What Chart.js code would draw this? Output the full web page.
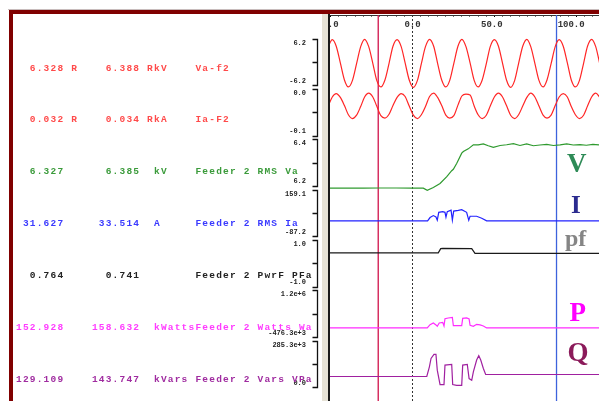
<!DOCTYPE html>
<html>
<head>
<meta charset="utf-8">
<script src="https://cdn.jsdelivr.net/npm/chart.js@4.4.0/dist/chart.umd.min.js"></script>
<style>
  html, body { margin: 0; padding: 0; background: #fff; }
  #wrap { position: relative; width: 599px; height: 401px; overflow: hidden; background: #fff; }
  canvas { position: absolute; top: 0; }
  #axisCanvas { left: 0; }
  #plotCanvas { left: 330px; }
  .frameLine { position: absolute; left: 8px; top: 9px; width: 591px; height: 1px; background: #c8bcbc; }
  .frameTop { position: absolute; left: 9px; top: 10px; width: 590px; height: 4px; background: #800000; }
  .frameLeft { position: absolute; left: 9px; top: 10px; width: 4px; height: 391px; background: #800000; }
  .strip { position: absolute; left: 322px; top: 14px; width: 6px; height: 387px; background: #e6e2d6; }
  .edge { position: absolute; left: 328px; top: 14px; width: 2px; height: 387px; background: #1a1a1a; }
  .row { position: absolute; left: 16px; font: bold 9.5px "Liberation Mono", monospace; letter-spacing: 1.2px; white-space: pre; line-height: 10px; }
  .tag { position: absolute; font-family: "Liberation Serif", serif; font-weight: bold; line-height: 1; }
</style>
</head>
<body>
<div id="wrap">
  <canvas id="axisCanvas" width="330" height="401"></canvas>
  <canvas id="plotCanvas" width="269" height="401"></canvas>
  <div class="frameLine"></div>
  <div class="frameTop"></div>
  <div class="frameLeft"></div>
  <div class="strip"></div>
  <div class="edge"></div>
</div>
<script>
// ---- readouts (left panel) ----
const traceNames = ['Va-f2', 'Ia-F2', 'Feeder 2 RMS Va', 'Feeder 2 RMS Ia', 'Feeder 2 PwrF PFa', 'Feeder 2 Watts Wa', 'Feeder 2 Vars VPa'];
const readRed = ['6.328', '0.032', '6.327', '31.627', '0.764', '152.928', '129.109'];
const readBlue = ['6.388', '0.034', '6.385', '33.514', '0.741', '158.632', '143.747'];
const units = ['kV', 'kA', 'kV', 'A', '', 'kWatts', 'kVars'];
const relative = [true, true, false, false, false, false, false];
const traceColors = ['#ff2626', '#ff2626', '#2f9a2f', '#2222ff', '#1a1a1a', '#ff2cff', '#a020a0'];
const textColors = ['#ff4a4a', '#ff4a4a', '#3b9b3b', '#3a3aff', '#222222', '#ff3cff', '#a02ca0'];

// ---- axis limits / tick labels per band ----
const axisHi = [6.2, 0.0, 6.4, 159.1, 1.0, 1.2e6, 285.3e3];
const axisLo = [-6.2, -0.1, 6.2, -87.2, -1.0, -476.3e3, 0.0];
const axisHiText = ['6.2', '0.0', '6.4', '159.1', '1.0', '1.2e+6', '285.3e+3'];
const axisLoText = ['-6.2', '-0.1', '6.2', '-87.2', '-1.0', '-476.3e+3', '0.0'];

// ---- time axis (ms) ----
const xMin = -50.3;
const xMax = 113.7;
const cursorT = [-20.9, 87.8];
const cursorColors = ['#d0124a', '#3d62dc'];
const triggerT = [0];

// ---- waveforms ----
const tWave = [-51.4, -48.9, -46.5, -44.0, -41.5, -39.1, -36.6, -34.1, -31.6, -29.2,
  -26.7, -24.2, -21.8, -19.3, -16.8, -14.3, -11.9, -9.4, -6.9, -4.5,
  -2.0, 0.5, 3.0, 5.4, 7.9, 10.4, 12.9, 15.3, 17.8, 20.3,
  22.7, 25.2, 27.7, 30.1, 32.6, 35.1, 37.6, 40.0, 42.5, 45.0,
  47.4, 49.9, 52.4, 54.9, 57.3, 59.8, 62.3, 64.7, 67.2, 69.7,
  72.1, 74.6, 77.1, 79.6, 82.0, 84.5, 87.0, 89.4, 91.9, 94.4,
  96.8, 99.3, 101.8, 104.3, 106.7, 109.2, 111.7, 114.1, 116.6];
const vaWave = [4.3, 6.1, 4.4, 0.1, -4.3, -6.1, -4.4, -0.1,
  4.3, 6.2, 4.3, 0.0, -4.4, -6.1, -4.3, 0.0,
  4.4, 6.1, 4.3, 0.1, -4.3, -6.2, -4.4, -0.1,
  4.3, 6.2, 4.4, 0.0, -4.3, -6.1, -4.4, 0.0,
  4.4, 6.2, 4.3, 0.1, -4.4, -6.1, -4.3, -0.1,
  4.3, 6.1, 4.4, 0.0, -4.3, -6.2, -4.4, 0.0,
  4.4, 6.2, 4.3, 0.0, -4.4, -6.1, -4.3, -0.1,
  4.3, 6.1, 4.4, 0.1, -4.3, -6.1, -4.4, 0.0,
  4.4, 6.2, 4.3, 0.0, -4.4];
const iaWave = [-0.031, -0.012, -0.005, -0.013, -0.030, -0.049, -0.057, -0.050,
  -0.032, -0.012, -0.004, -0.012, -0.031, -0.051, -0.056, -0.048,
  -0.030, -0.013, -0.005, -0.011, -0.031, -0.050, -0.057, -0.049,
  -0.032, -0.011, -0.004, -0.013, -0.030, -0.050, -0.056, -0.051,
  -0.029, -0.010, -0.006, -0.008, -0.031, -0.049, -0.057, -0.050,
  -0.031, -0.012, -0.004, -0.012, -0.030, -0.050, -0.057, -0.049,
  -0.031, -0.013, -0.004, -0.012, -0.031, -0.050, -0.056, -0.050,
  -0.030, -0.012, -0.005, -0.012, -0.032, -0.049, -0.057, -0.050,
  -0.031, -0.012, -0.004, -0.013, -0.030];

// ---- RMS / derived traces ----
const tV = [-50.3, -40, -30, -19.8, -10, 0, 6.6, 9.0, 12.7, 16.8, 20.9, 23.9, 24.9, 27.0, 30.0, 31.0, 34.0, 37.1, 40.1,
  43.2, 46.2, 49.3, 53.4, 57.4, 61.5, 65.5, 69.6, 73.7, 77.7, 81.8, 85.9, 90, 94.0, 98, 102.1, 106, 110, 113.7];
const vRms = [6.212, 6.213, 6.212, 6.213, 6.213, 6.212, 6.212, 6.203, 6.215, 6.232, 6.260, 6.285, 6.291, 6.316, 6.358,
  6.365, 6.376, 6.393, 6.393, 6.397, 6.389, 6.382, 6.390, 6.393, 6.398, 6.390, 6.397, 6.389, 6.392, 6.395, 6.390,
  6.393, 6.397, 6.392, 6.394, 6.391, 6.395, 6.393];
const tI = [-50.3, 9.2, 10.7, 12.7, 14.3, 15.1, 16.0, 18.4, 19.8, 20.4, 21.2, 23.5, 24.3, 25.1, 27.9, 30.0, 33.0, 34.3,
  35.1, 39.1, 42.2, 45.2, 113.7];
const iRms = [26.4, 26.4, 43.5, 53.5, 46.5, 29.9, 70.1, 73.6, 70.1, 45.0, 73.6, 81.7, 29.9, 76.7, 80.2, 83.7, 70.1, 29.9,
  50.0, 50.0, 40.0, 26.4, 26.4];
const tPf = [-50.3, 15.7, 17.2, 18.4, 36.1, 38.1, 113.7];
const pfVal = [0.752, 0.752, 0.930, 0.935, 0.930, 0.727, 0.727];
const tP = [-50.3, 9.0, 10.7, 12.7, 14.3, 15.1, 16.3, 18.4, 19.2, 19.8, 21.8, 24.3, 24.9, 26.9, 30.0, 30.6, 33.0, 34.5,
  35.1, 37.1, 39.1, 41.2, 43.2, 45.2, 113.7];
const pW = [183.1e3, 183.1e3, 297.6e3, 356.6e3, 287.2e3, 238.6e3, 356.6e3, 377.5e3, 252.5e3, 505.9e3, 530.2e3, 551.0e3,
  262.9e3, 262.9e3, 262.9e3, 516.3e3, 530.2e3, 495.5e3, 273.4e3, 238.6e3, 308.1e3, 287.2e3, 252.5e3, 183.1e3, 183.1e3];
const tQ = [-50.3, 8.7, 10.3, 11.3, 13.1, 14.3, 15.1, 16.8, 19.2, 19.8, 23.9, 24.5, 26.9, 30.0, 30.6, 33.4, 34.5, 36.1,
  37.1, 39.1, 40.4, 41.6, 43.2, 44.6, 113.7];
const qVar = [131.9e3, 131.9e3, 189.4e3, 239.7e3, 263.7e3, 263.7e3, 169.6e3, 83.9e3, 83.9e3, 199.6e3, 203.8e3, 83.9e3,
  79.7e3, 79.7e3, 199.6e3, 203.8e3, 119.9e3, 109.7e3, 159.4e3, 229.6e3, 255.3e3, 229.6e3, 179.8e3, 143.8e3, 143.8e3];

// ---- big letters on the right ----
const tagText = ['V', 'I', 'pf', 'P', 'Q'];
const tagColors = ['#2e8b57', '#2b2b8f', '#858585', '#ff00ff', '#8b1a5a'];

// layout of the bands (pixels in the plot area)
const PLOT_TOP = 15, PLOT_BOTTOM = 401;
const BAND_TOP = 39.3, BAND_STEP = 51.9, BAND_H = 48;
const BRACKET_X = 318, BRACKET_TICK = 5, LABEL_X = 306;

function bandRange(i) {
  const pTop = BAND_TOP + BAND_STEP * i;
  const pBot = pTop + BAND_H;
  const u = (axisHi[i] - axisLo[i]) / BAND_H;
  return { min: axisLo[i] - (PLOT_BOTTOM - pBot) * u, max: axisHi[i] + (pTop - PLOT_TOP) * u };
}

const pts = (ts, vs) => ts.map((t, k) => ({ x: t, y: vs[k] }));

// left panel text
const wrap = document.getElementById('wrap');
traceNames.forEach((name, i) => {
  const row = document.createElement('div');
  row.className = 'row';
  row.style.top = (63.6 + 51.83 * i) + 'px';
  row.style.color = textColors[i];
  row.textContent = readRed[i].padStart(7) + (relative[i] ? ' R' : '  ') + readBlue[i].padStart(9) + ' ' +
    (relative[i] ? 'R' : ' ') + units[i].padEnd(6) + name;
  wrap.appendChild(row);
});

const tagPos = [[567, 173, 27], [571, 213.3, 25], [565, 246, 24], [569.5, 321.7, 27], [567.5, 362, 27]];
tagText.forEach((txt, i) => {
  const el = document.createElement('div');
  el.className = 'tag';
  el.textContent = txt;
  el.style.color = tagColors[i];
  el.style.fontSize = tagPos[i][2] + 'px';
  el.style.left = tagPos[i][0] + 'px';
  el.style.top = (tagPos[i][1] - 0.8375 * tagPos[i][2]) + 'px';
  wrap.appendChild(el);
});

// ---- left chart: the bracket axes ----
const bracketPlugin = {
  id: 'brackets',
  afterDraw(chart) {
    const ctx = chart.ctx;
    const xr = Math.round(chart.scales.x.getPixelForValue(BRACKET_X)) - 0.5;
    const xl = xr - BRACKET_TICK;
    ctx.save();
    ctx.strokeStyle = '#111';
    ctx.lineWidth = 1.3;
    axisHi.forEach((hi, i) => {
      const s = chart.scales['y' + i];
      const lo = axisLo[i];
      const yT = Math.round(s.getPixelForValue(hi)) + 0.5;
      const yM = Math.round(s.getPixelForValue((hi + lo) / 2)) + 0.5;
      const yB = Math.round(s.getPixelForValue(lo)) + 0.5;
      ctx.beginPath();
      ctx.moveTo(xl, yT);
      ctx.lineTo(xr, yT);
      ctx.lineTo(xr, yB);
      ctx.lineTo(xl, yB);
      ctx.moveTo(xl, yM);
      ctx.lineTo(xr, yM);
      ctx.stroke();
    });
    ctx.restore();
  }
};

const axisScales = { x: { type: 'linear', display: false, min: 0, max: 330 } };
axisHi.forEach((hi, i) => {
  const r = bandRange(i);
  const lo = axisLo[i];
  axisScales['y' + i] = {
    type: 'linear',
    axis: 'y',
    position: { x: LABEL_X },
    min: r.min,
    max: r.max,
    afterBuildTicks(s) { s.ticks = [{ value: lo }, { value: hi }]; },
    ticks: {
      color: '#222',
      font: { family: 'Liberation Mono', size: 7, weight: 'bold', lineHeight: 1.2 },
      callback(v) {
        if (v === hi) return ['', axisHiText[i]];
        if (v === lo) return [axisLoText[i], ''];
        return '';
      }
    },
    grid: { display: false },
    border: { display: false }
  };
});

new Chart(document.getElementById('axisCanvas'), {
  type: 'line',
  data: { datasets: [] },
  options: {
    responsive: false,
    animation: false,
    devicePixelRatio: 1,
    layout: { padding: { left: 0, top: PLOT_TOP, right: 0, bottom: 0 } },
    plugins: { legend: { display: false }, tooltip: { enabled: false } },
    scales: axisScales
  },
  plugins: [bracketPlugin]
});

// ---- right chart: the traces ----
const xTicks = [];
for (let v = -50; v <= 110; v += 5) xTicks.push(v);

const plotScales = {
  x: {
    type: 'linear',
    position: 'top',
    min: xMin,
    max: xMax,
    afterFit(s) { s.height = PLOT_TOP; s.paddingLeft = 0; s.paddingRight = 0; },
    afterBuildTicks(s) { s.ticks = xTicks.map(v => ({ value: v })); },
    ticks: {
      mirror: true,
      padding: 4,
      autoSkip: false,
      maxRotation: 0,
      color: '#333',
      font: { family: 'Liberation Mono', size: 9, weight: 'bold' },
      callback(v) {
        if (v % 50 !== 0) return '';
        const s = v.toFixed(1);
        const n = s.indexOf('.');
        return s + ' '.repeat(Math.max(0, n - 1));
      }
    },
    grid: {
      drawOnChartArea: false,
      drawTicks: true,
      tickLength: -2,
      tickColor: c => (c.tick && c.tick.value % 50 === 0 ? '#000' : '#777')
    },
    border: { display: true, color: '#333', width: 1 }
  },
  yc: { display: false, min: 0, max: 1 }
};
axisHi.forEach((hi, i) => {
  const r = bandRange(i);
  plotScales['y' + i] = { type: 'linear', display: false, min: r.min, max: r.max };
});

const series = [
  [tWave, vaWave], [tWave, iaWave], [tV, vRms], [tI, iRms], [tPf, pfVal], [tP, pW], [tQ, qVar]
];
const datasets = series.map(([ts, vs], i) => ({
  data: pts(ts, vs),
  yAxisID: 'y' + i,
  borderColor: traceColors[i],
  borderWidth: 1.2,
  pointRadius: 0,
  fill: false,
  tension: 0,
  cubicInterpolationMode: i < 2 ? 'monotone' : 'default',
  order: 1
}));
cursorT.forEach((t, k) => {
  datasets.push({
    data: [{ x: t, y: 0 }, { x: t, y: 1 }],
    yAxisID: 'yc',
    borderColor: cursorColors[k],
    borderWidth: 1.3,
    pointRadius: 0,
    order: 5
  });
});
triggerT.forEach(t => {
  datasets.push({
    data: [{ x: t, y: 0 }, { x: t, y: 1 }],
    yAxisID: 'yc',
    borderColor: '#333',
    borderWidth: 1,
    borderDash: [2, 2],
    pointRadius: 0,
    order: 6
  });
});

new Chart(document.getElementById('plotCanvas'), {
  type: 'line',
  data: { datasets },
  options: {
    responsive: false,
    animation: false,
    devicePixelRatio: 1,
    layout: { padding: 0 },
    plugins: { legend: { display: false }, tooltip: { enabled: false } },
    scales: plotScales
  }
});
</script>
</body>
</html>
